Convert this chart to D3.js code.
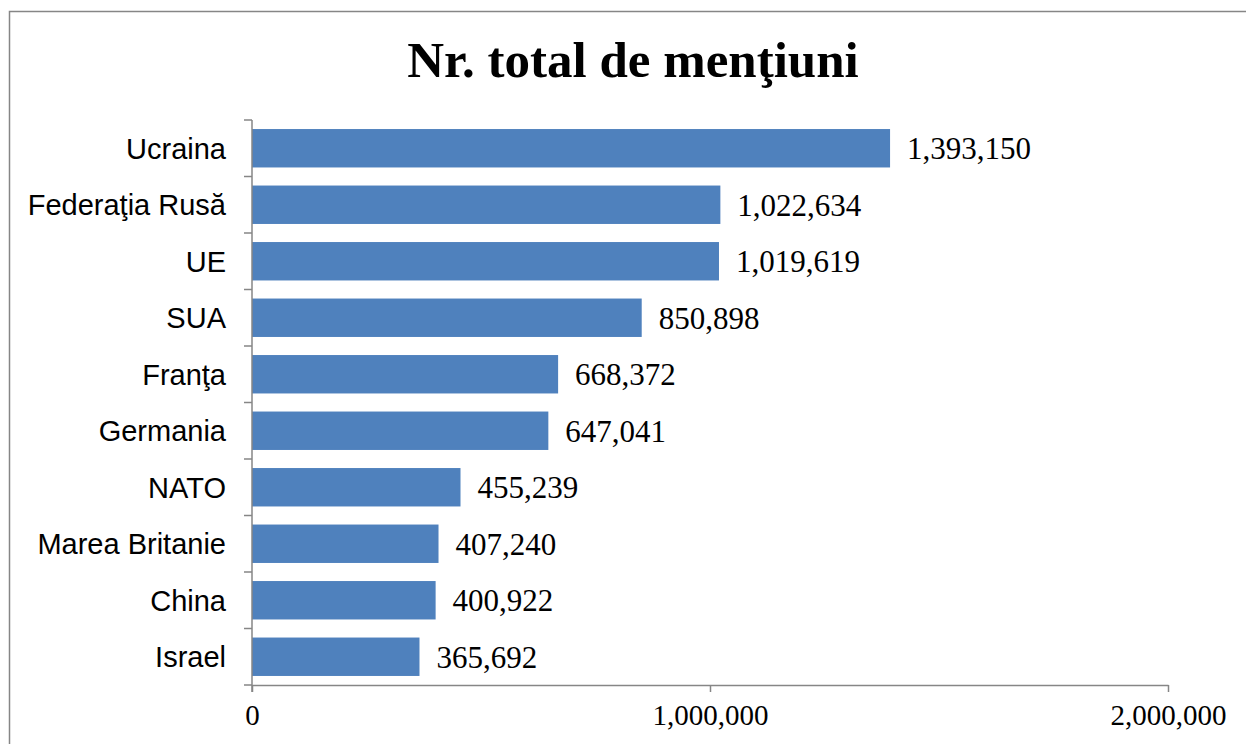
<!DOCTYPE html>
<html>
<head>
<meta charset="utf-8">
<script src="https://cdn.jsdelivr.net/npm/d3@7"></script>
<style>
  body { margin: 0; background: #fff; }
  svg { display: block; }
</style>
</head>
<body>
<div id="chart"></div>
<script>
// Values
const categories = ["Ucraina", "Federaţia Rusă", "UE", "SUA", "Franţa", "Germania", "NATO", "Marea Britanie", "China", "Israel"];
const mentions = [1393150, 1022634, 1019619, 850898, 668372, 647041, 455239, 407240, 400922, 365692];
const xTicks = [0, 1000000, 2000000];

const width = 1246, height = 744;
const margin = { top: 120, left: 252, right: 78, bottom: 59 };

const svg = d3.select("#chart")
    .append("svg")
    .attr("width", width)
    .attr("height", height);

// outer chart frame (right and bottom edges fall outside the picture)
svg.append("path")
    .attr("d", "M9.5," + height + "V11.5H" + width)
    .attr("fill", "none")
    .attr("stroke", "#868686")
    .attr("stroke-width", 1.5);

// title
svg.append("text")
    .attr("x", 633)
    .attr("y", 77)
    .attr("text-anchor", "middle")
    .style("font-family", "'Liberation Serif', serif")
    .style("font-weight", "bold")
    .style("font-size", "51px")
    .text("Nr. total de menţiuni");

var x = d3.scaleLinear()
    .domain([0, 2000000])
    .range([margin.left, width - margin.right]);

var y = d3.scaleBand()
    .domain(categories)
    .range([margin.top, height - margin.bottom])
    .paddingInner(0.32)
    .paddingOuter(0.16);

// bars
svg.append("g")
    .selectAll("rect")
    .data(mentions)
    .join("rect")
    .attr("x", x(0))
    .attr("y", (d, i) => y(categories[i]))
    .attr("width", d => x(d) - x(0))
    .attr("height", y.bandwidth())
    .attr("fill", "#4f81bd");

// value labels
svg.append("g")
    .selectAll("text")
    .data(mentions)
    .join("text")
    .attr("x", d => x(d) + 17)
    .attr("y", (d, i) => y(categories[i]) + y.bandwidth() / 2)
    .attr("dy", "0.36em")
    .style("font-family", "'Liberation Serif', serif")
    .style("font-size", "31px")
    .text(d => d3.format(",")(d));

// category axis: ticks on band boundaries
var bandStep = (height - margin.bottom - margin.top) / categories.length;
var yAxis = svg.append("g").attr("stroke", "#868686").attr("stroke-width", 1.5);
yAxis.append("line")
    .attr("x1", x(0)).attr("x2", x(0))
    .attr("y1", margin.top).attr("y2", height - margin.bottom + 7);
yAxis.selectAll("line.tick")
    .data(d3.range(categories.length + 1))
    .join("line")
    .attr("class", "tick")
    .attr("x1", x(0) - 8).attr("x2", x(0))
    .attr("y1", i => margin.top + i * bandStep)
    .attr("y2", i => margin.top + i * bandStep);

svg.append("g")
    .selectAll("text")
    .data(categories)
    .join("text")
    .attr("x", 226)
    .attr("y", d => y(d) + y.bandwidth() / 2)
    .attr("dy", "0.36em")
    .attr("text-anchor", "end")
    .style("font-family", "'Liberation Sans', Arial, sans-serif")
    .style("font-size", "29px")
    .text(d => d);

// value axis
var xAxis = d3.axisBottom(x)
    .tickValues(xTicks)
    .tickFormat(d3.format(","))
    .tickSize(7)
    .tickSizeOuter(0)
    .tickPadding(12);

var gx = svg.append("g")
    .attr("transform", "translate(0," + (height - margin.bottom) + ")")
    .call(xAxis);
gx.select(".domain").attr("stroke", "#868686").attr("stroke-width", 1.5);
gx.selectAll(".tick line").attr("stroke", "#868686").attr("stroke-width", 1.5);
gx.selectAll(".tick text")
    .attr("fill", "#000")
    .style("font-family", "'Liberation Serif', serif")
    .style("font-size", "29px");
</script>
</body>
</html>
